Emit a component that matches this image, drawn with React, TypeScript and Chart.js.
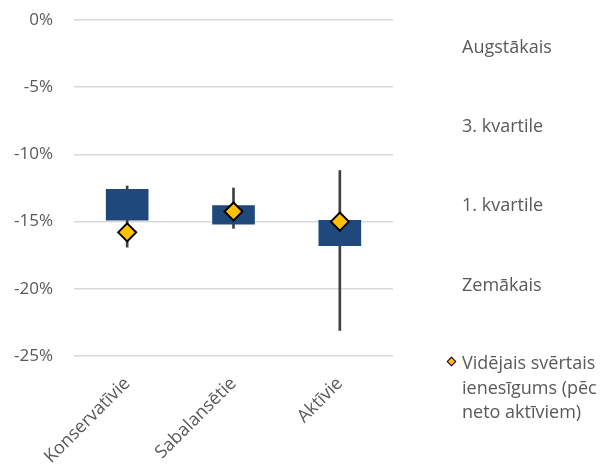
import React, { useEffect, useRef } from "react";
import { Chart, registerables } from "chart.js";

Chart.register(...registerables);

const categories = ["Konservatīvie", "Sabalansētie", "Aktīvie"];
const highest = [-12.35, -12.5, -11.2];
const quartile3 = [-12.6, -13.8, -14.9];
const quartile1 = [-14.9, -15.2, -16.8];
const lowest = [-16.9, -15.5, -23.1];
const meanReturn = [-15.8, -14.25, -15.0];

const legendLabels = ["Augstākais", "3. kvartile", "1. kvartile", "Zemākais"];
const meanLabelLines = ["Vidējais svērtais", "ienesīgums (pēc", "neto aktīviem)"];

const FONT = "'Open Sans', 'DejaVu Sans', sans-serif";
const TEXT = "#595959";

export default function App() {
  const ref = useRef<HTMLCanvasElement | null>(null);

  useEffect(() => {
    if (!ref.current) return;
    const chart = new Chart(ref.current, {
      type: "bar",
      data: {
        labels: categories,
        datasets: [
          {
            type: "bar",
            label: "whisker",
            data: categories.map((_, i) => [lowest[i], highest[i]]) as any,
            backgroundColor: "#404040",
            barThickness: 2,
            grouped: false,
            order: 3,
          } as any,
          {
            type: "bar",
            label: "box",
            data: categories.map((_, i) => [quartile1[i], quartile3[i]]) as any,
            backgroundColor: "#1F497D",
            barThickness: 42,
            grouped: false,
            order: 2,
          } as any,
          {
            type: "line",
            label: "mean",
            data: meanReturn,
            showLine: false,
            pointStyle: "rectRot",
            pointRadius: 9,
            pointBackgroundColor: "#FFC000",
            pointBorderColor: "#000000",
            pointBorderWidth: 2,
            order: 1,
          } as any,
        ],
      },
      options: {
        responsive: false,
        animation: false,
        layout: { padding: { top: 20, right: 210, left: 0, bottom: 0 } },
        plugins: { legend: { display: false }, tooltip: { enabled: false } },
        scales: {
          x: {
            offset: true,
            grid: { display: false },
            border: { display: false },
            ticks: {
              autoSkip: false,
              minRotation: 45,
              maxRotation: 45,
              color: TEXT,
              font: { family: FONT, size: 18 },
              padding: 9,
            },
            afterFit: (s: any) => {
              s.height = 109;
            },
          },
          y: {
            min: -25,
            max: 0,
            grid: { color: "#d9d9d9", lineWidth: 1.5, drawTicks: false },
            border: { display: false },
            ticks: {
              stepSize: 5,
              color: TEXT,
              font: { family: FONT, size: 17 },
              padding: 21,
              callback: (v: any) => `${v}%`,
            },
            afterFit: (s: any) => {
              s.width = 74;
              s.paddingTop = 10;
              s.paddingBottom = 0;
            },
          },
        },
      },
    });
    return () => chart.destroy();
  }, []);

  const legendY = [46, 125, 204, 284];
  const meanY = [362, 387, 411];

  return (
    <div
      style={{
        position: "absolute",
        left: 0,
        top: 0,
        width: 603,
        height: 465,
        overflow: "hidden",
        background: "#ffffff",
        fontFamily: FONT,
        color: TEXT,
      }}
    >
      <canvas ref={ref} width={603} height={465} style={{ display: "block" }} />
      {legendLabels.map((t, i) => (
        <div
          key={t}
          style={{
            position: "absolute",
            left: 462,
            top: legendY[i] - 12,
            height: 24,
            lineHeight: "24px",
            fontSize: 18,
            whiteSpace: "nowrap",
          }}
        >
          {t}
        </div>
      ))}
      <div
        style={{
          position: "absolute",
          left: 448,
          top: 358,
          width: 5,
          height: 5,
          background: "#FFC000",
          border: "1.5px solid #000",
          transform: "rotate(45deg)",
        }}
      />
      {meanLabelLines.map((t, i) => (
        <div
          key={t}
          style={{
            position: "absolute",
            left: 462,
            top: meanY[i] - 12,
            height: 24,
            lineHeight: "24px",
            fontSize: 18,
            whiteSpace: "nowrap",
          }}
        >
          {t}
        </div>
      ))}
    </div>
  );
}
